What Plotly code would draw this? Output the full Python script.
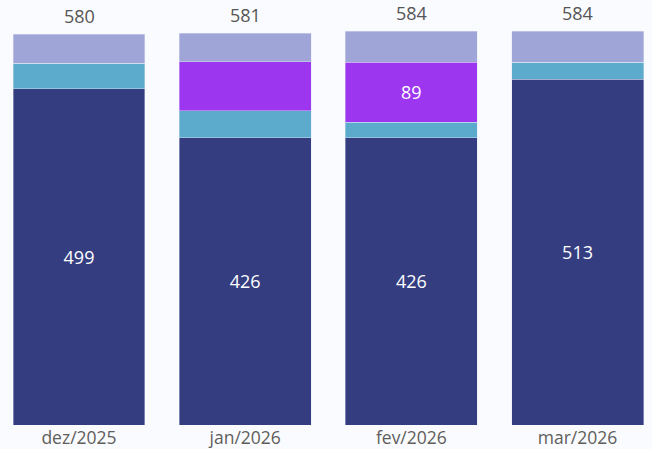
import plotly.graph_objects as go

categories = ["dez/2025", "jan/2026", "fev/2026", "mar/2026"]
navy_vals = [499, 426, 426, 513]
teal_vals = [38, 40, 23, 25]
purple_vals = [0, 73, 89, 0]
lav_vals = [43, 42, 46, 46]
totals = [580, 581, 584, 584]
# which segment labels are visible in the reference
purple_label_shown = [False, False, True, False]

FONT = "Segoe UI, Open Sans, Noto Sans, sans-serif"

fig = go.Figure()
fig.add_bar(x=categories, y=navy_vals, name="A", marker_color="#343D80",
            text=[str(v) for v in navy_vals], textposition="inside",
            insidetextanchor="middle",
            textfont=dict(color="white", size=18, family=FONT))
fig.add_bar(x=categories, y=teal_vals, name="B", marker_color="#5DABCC",
            textposition="none")
fig.add_bar(x=categories, y=purple_vals, name="C", marker_color="#9D36EF",
            text=[str(v) if s else "" for v, s in zip(purple_vals, purple_label_shown)],
            textposition="inside", insidetextanchor="middle",
            textfont=dict(color="white", size=18, family=FONT))
fig.add_bar(x=categories, y=lav_vals, name="D", marker_color="#A0A5D8",
            textposition="none")
fig.update_traces(marker_line=dict(color="rgba(225,228,245,0.7)", width=0.6),
                  selector=dict(type="bar"))

for c, t in zip(categories, totals):
    fig.add_annotation(x=c, y=t, text=str(t), showarrow=False,
                       yanchor="bottom", yshift=4,
                       font=dict(color="#555555", size=18, family=FONT))

fig.update_layout(
    barmode="stack", bargap=0.206,
    width=652, height=449,
    margin=dict(l=0, r=0, t=0, b=24),
    paper_bgcolor="#FAFBFE", plot_bgcolor="#FAFBFE",
    showlegend=False,
    font=dict(family=FONT),
)
fig.update_xaxes(range=[-0.4754, 3.448], showgrid=False, showline=False,
                 ticks="", tickfont=dict(color="#605E5C", size=17.5, family=FONT))
fig.update_yaxes(range=[0, 630.6], visible=False, showgrid=False)

fig.write_html("out.html", config={"displayModeBar": False},
               post_script="document.body.style.margin='0';document.body.style.background='#FAFBFE';")
